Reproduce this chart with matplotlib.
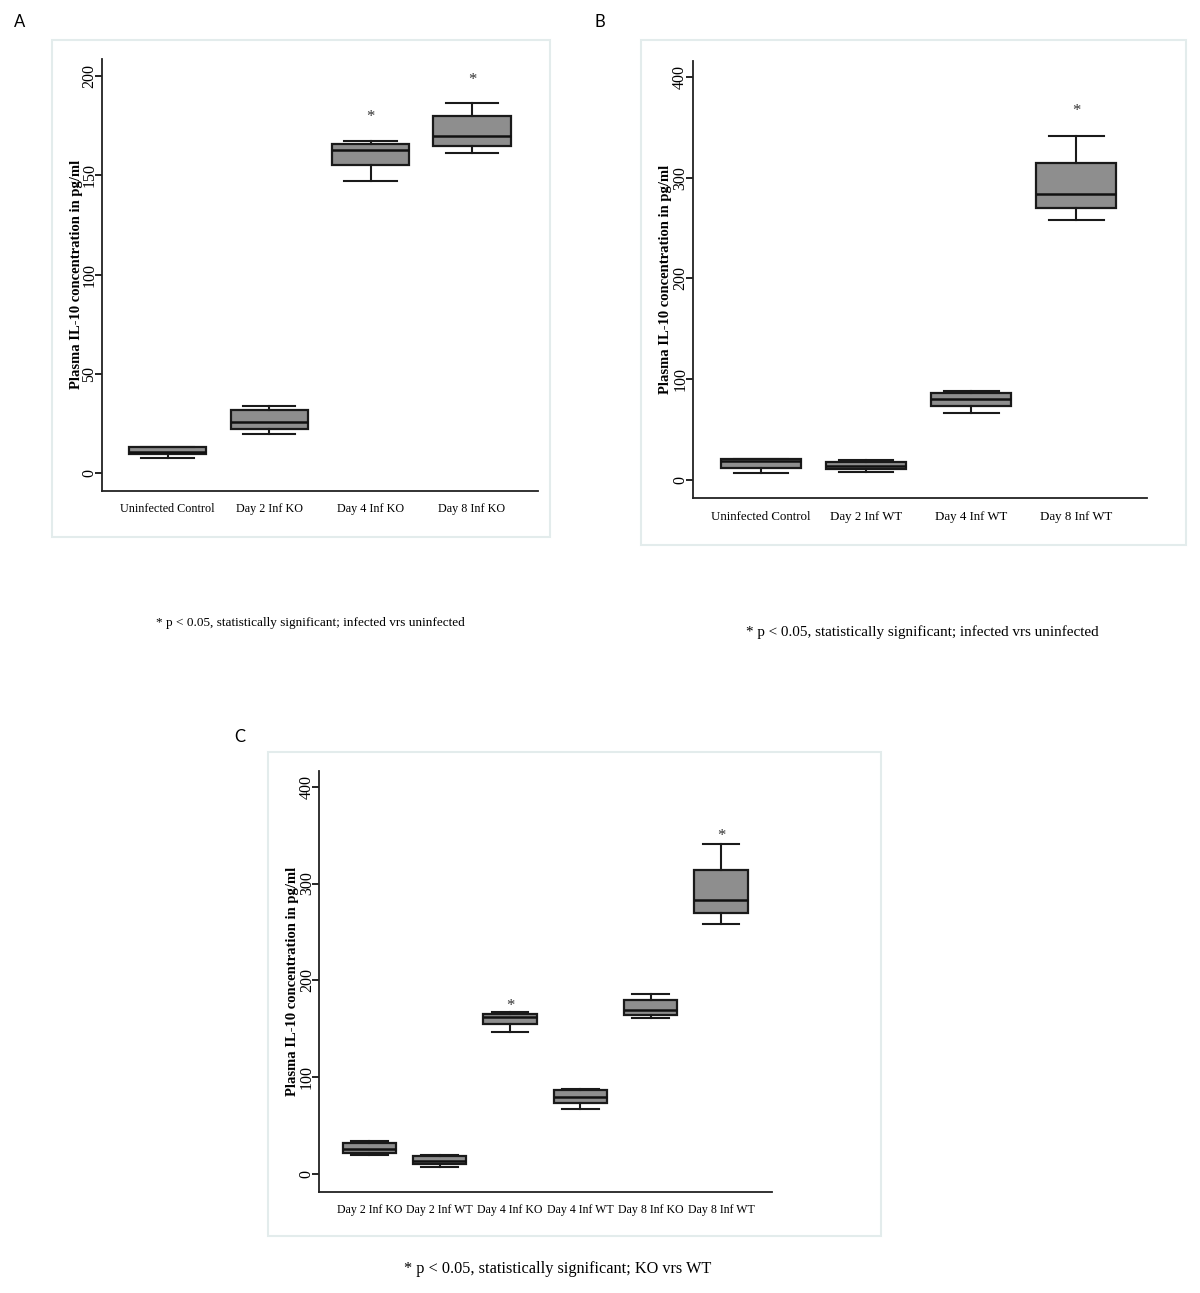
import matplotlib
matplotlib.use("Agg")
import matplotlib.pyplot as plt
from matplotlib.patches import Rectangle

# group summaries (pg/ml)
ko_groups = ["Uninfected Control", "Day 2 Inf KO", "Day 4 Inf KO", "Day 8 Inf KO"]
ko_whislo = [7.9, 19.9, 147.0, 161.1]
ko_q1 = [9.7, 22.1, 155.1, 164.6]
ko_med = [10.9, 25.6, 162.6, 169.5]
ko_q3 = [13.1, 31.9, 165.6, 179.5]
ko_whishi = [13.4, 34.0, 167.1, 186.1]

wt_groups = ["Uninfected Control", "Day 2 Inf WT", "Day 4 Inf WT", "Day 8 Inf WT"]
wt_whislo = [6.6, 7.6, 66.8, 257.9]
wt_q1 = [12.2, 10.9, 73.4, 270.0]
wt_med = [19.2, 13.9, 80.0, 283.3]
wt_q3 = [20.5, 18.2, 86.6, 314.0]
wt_whishi = [20.5, 19.8, 87.9, 341.2]

# asterisks: (group index, height)
star_a = [(2, 179), (3, 198)]
star_b = [(3, 366)]
star_c = [(2, 173.5), (5, 349)]

ylabel = "Plasma IL-10 concentration in pg/ml"
W, H = 1200, 1293
serif = ["Liberation Serif", "DejaVu Serif"]


def stats(names, lo, q1, med, q3, hi):
    return [dict(label=n, whislo=a, q1=b, med=c, q3=d, whishi=e)
            for n, a, b, c, d, e in zip(names, lo, q1, med, q3, hi)]


def px_axes(fig, left, top, right, bottom):
    return fig.add_axes([left / W, 1 - bottom / H, (right - left) / W, (bottom - top) / H])


def frame(fig, x0, y0, x1, y1):
    fig.patches.append(Rectangle((x0 / W, 1 - y1 / H), (x1 - x0) / W, (y1 - y0) / H,
                                 transform=fig.transFigure, fill=False,
                                 edgecolor="#e3ecec", lw=1.5))


def draw(ax, st, xlim, ylim, yticks, stars, label_x, xfs):
    pos = list(range(1, len(st) + 1))
    ax.bxp(st, positions=pos, widths=0.76, showfliers=False, patch_artist=True,
           boxprops=dict(facecolor="#8e8e8e", edgecolor="#1a1a1a", lw=1.6),
           medianprops=dict(color="#111111", lw=1.8),
           whiskerprops=dict(color="#1a1a1a", lw=1.5),
           capprops=dict(color="#1a1a1a", lw=1.5), capwidths=0.52)
    for i, h in stars:
        ax.text(pos[i], h, "*", ha="center", va="center", fontsize=12,
                family=serif, color="#333333")
    ax.set_xlim(*xlim)
    ax.set_ylim(*ylim)
    ax.set_yticks(yticks)
    ax.set_yticklabels([str(t) for t in yticks], rotation=90, va="center", ha="center",
                       family=serif, fontsize=11.5)
    ax.set_xticks(pos)
    ax.set_xticklabels([s["label"] for s in st], family=serif, fontsize=xfs)
    ax.tick_params(axis="x", length=0, pad=9)
    ax.tick_params(axis="y", length=5, width=1.2, pad=4)
    for s in ["top", "right"]:
        ax.spines[s].set_visible(False)
    for s in ["left", "bottom"]:
        ax.spines[s].set_linewidth(1.3)
        ax.spines[s].set_color("#222222")
    ax.set_ylabel(ylabel, family=serif, fontsize=10.5, fontweight="bold")
    ax.yaxis.set_label_coords(label_x, 0.5)


fig = plt.figure(figsize=(12, 12.93), dpi=100)

frame(fig, 52, 40, 550, 537)
frame(fig, 641, 40, 1186, 545)
frame(fig, 268, 752, 881, 1236)

ax_a = px_axes(fig, 101.7, 59, 538, 490.7)
draw(ax_a, stats(ko_groups, ko_whislo, ko_q1, ko_med, ko_q3, ko_whishi),
     (0.35, 4.65), (-8.75, 208.4), [0, 50, 100, 150, 200], star_a, -0.044, 8.7)

ax_b = px_axes(fig, 692.7, 60.7, 1146.7, 498.3)
draw(ax_b, stats(wt_groups, wt_whislo, wt_q1, wt_med, wt_q3, wt_whishi),
     (0.35, 4.67), (-18.2, 416), [0, 100, 200, 300, 400], star_b, -0.0445, 9.3)

# panel C: KO and WT interleaved by day
c_stats = []
ko_st = stats(ko_groups, ko_whislo, ko_q1, ko_med, ko_q3, ko_whishi)
wt_st = stats(wt_groups, wt_whislo, wt_q1, wt_med, wt_q3, wt_whishi)
for k in range(1, 4):
    c_stats.append(ko_st[k])
    c_stats.append(wt_st[k])
ax_c = px_axes(fig, 319.3, 770.7, 771.7, 1191.7)
draw(ax_c, c_stats, (0.29, 6.72), (-18.2, 416.5), [0, 100, 200, 300, 400], star_c, -0.0444, 8.6)

letters = [("A", 20, 22), ("B", 600, 22), ("C", 240, 737)]
for t, x, y in letters:
    fig.text(x / W, 1 - y / H, t, ha="center", va="center", fontsize=12, family="Lato")

notes = [("* p < 0.05, statistically significant; infected vrs uninfected", 310, 623, 9.5),
         ("* p < 0.05, statistically significant; infected vrs uninfected", 922, 632, 10.9),
         ("* p < 0.05, statistically significant; KO vrs WT", 558, 1269, 11.7)]
for t, x, y, fs in notes:
    fig.text(x / W, 1 - y / H, t, ha="center", va="center", fontsize=fs, family=serif)

fig.savefig("out.png", dpi=100, facecolor="white")
